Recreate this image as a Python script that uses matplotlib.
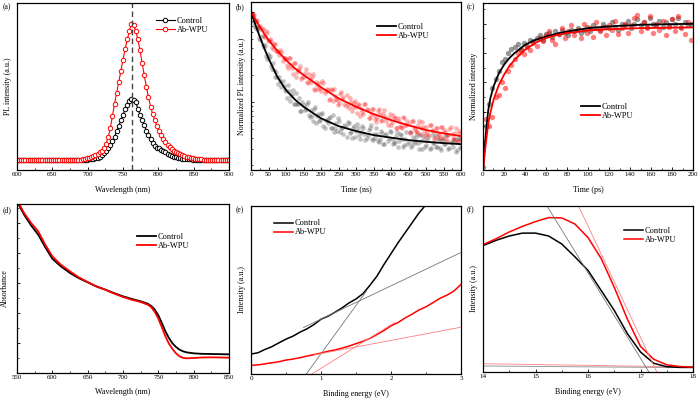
import numpy as np
import matplotlib
matplotlib.use("Agg")
import matplotlib.pyplot as plt
from matplotlib.ticker import MultipleLocator, LogLocator, NullFormatter

plt.rcParams['font.family'] = ['Liberation Serif', 'DejaVu Serif']

# ---------------- data ----------------
# (a) PL spectra
pl_wl = np.arange(600, 901, 3)
pl_ctrl = [0.001, 0.001, 0.001, 0.001, 0.001, 0.001, 0.001, 0.001, 0.001, 0.001,
           0.001, 0.001, 0.001, 0.001, 0.001, 0.001, 0.001, 0.001, 0.001, 0.001,
           0.001, 0.001, 0.001, 0.001, 0.001, 0.001, 0.001, 0.001, 0.001, 0.001,
           0.001, 0.001, 0.001, 0.002,
           0.004, 0.006, 0.009, 0.013, 0.018, 0.025, 0.035, 0.05, 0.065, 0.085,
           0.11, 0.14, 0.17, 0.21, 0.25, 0.29, 0.33, 0.37, 0.405, 0.43,
           0.442, 0.44, 0.42, 0.375, 0.33, 0.29, 0.255, 0.215, 0.18, 0.15,
           0.125, 0.105, 0.09, 0.085, 0.075, 0.065, 0.055, 0.046, 0.038, 0.031,
           0.025, 0.02, 0.016, 0.012, 0.009, 0.007, 0.005,
           0.004, 0.004, 0.003, 0.003, 0.003, 0.003, 0.003, 0.002, 0.002, 0.002,
           0.002, 0.002, 0.002, 0.002, 0.002, 0.002, 0.002, 0.002, 0.002, 0.002]
pl_abwpu = [0.002, 0.002, 0.002, 0.002, 0.002, 0.002, 0.002, 0.002, 0.002, 0.002,
            0.002, 0.002, 0.002, 0.002, 0.002, 0.002, 0.002, 0.002, 0.002, 0.002,
            0.002, 0.002, 0.002, 0.002, 0.002, 0.002, 0.002, 0.002, 0.002, 0.002,
            0.002,
            0.006, 0.009, 0.013, 0.017, 0.022, 0.029, 0.037, 0.046, 0.056, 0.066,
            0.085, 0.12, 0.165, 0.23, 0.32, 0.41, 0.49, 0.57, 0.65, 0.73,
            0.81, 0.88, 0.94, 0.995, 0.985, 0.94, 0.88, 0.80, 0.71, 0.62,
            0.535, 0.46, 0.39, 0.335, 0.29, 0.25, 0.21, 0.18, 0.155, 0.13,
            0.11, 0.095, 0.08, 0.068, 0.058, 0.049, 0.041, 0.034, 0.028, 0.023,
            0.019, 0.015, 0.012, 0.009, 0.007, 0.005, 0.004,
            0.003, 0.003, 0.003, 0.003, 0.003, 0.003, 0.003, 0.003, 0.003, 0.003,
            0.003, 0.003, 0.003]
pl_peak = 763

# (b) TRPL (two interleaved sampling sets per sample)
trpl_t = np.arange(0, 601, 6)
trpl_ctrl = [0.98, 0.90, 0.686, 0.64, 0.52, 0.546, 0.41, 0.326, 0.34, 0.322,
             0.235, 0.226, 0.218, 0.159, 0.171, 0.172, 0.135, 0.110, 0.133, 0.117,
             0.136, 0.094, 0.095, 0.110, 0.079, 0.093, 0.084, 0.099, 0.069, 0.070,
             0.083, 0.058, 0.074, 0.063, 0.076, 0.052, 0.063, 0.066, 0.052, 0.071,
             0.052, 0.048, 0.062, 0.051, 0.044, 0.054, 0.060, 0.045, 0.040, 0.054,
             0.048, 0.051, 0.039, 0.054, 0.044, 0.040, 0.049, 0.055, 0.038, 0.040,
             0.044, 0.036, 0.048, 0.034, 0.043, 0.037, 0.048, 0.039, 0.035, 0.042,
             0.032, 0.044, 0.039, 0.033, 0.047, 0.036, 0.032, 0.041, 0.035, 0.044,
             0.030, 0.037, 0.042, 0.032, 0.038, 0.030, 0.043, 0.035, 0.032, 0.040,
             0.031, 0.038, 0.034, 0.043, 0.030, 0.036, 0.032, 0.038, 0.029, 0.039,
             0.031]
trpl_abwpu = [0.965, 0.96, 0.786, 0.79, 0.68, 0.647, 0.541, 0.615, 0.489, 0.495,
              0.408, 0.441, 0.364, 0.355, 0.378, 0.289, 0.308, 0.257, 0.306, 0.257,
              0.206, 0.272, 0.213, 0.234, 0.180, 0.191, 0.231, 0.163, 0.182, 0.190,
              0.140, 0.169, 0.138, 0.144, 0.170, 0.127, 0.138, 0.106, 0.141, 0.104,
              0.118, 0.106, 0.097, 0.128, 0.113, 0.091, 0.095, 0.111, 0.080, 0.097,
              0.089, 0.096, 0.070, 0.077, 0.096, 0.083, 0.067, 0.074, 0.084, 0.064,
              0.067, 0.084, 0.062, 0.073, 0.068, 0.055, 0.074, 0.060, 0.066, 0.051,
              0.066, 0.054, 0.051, 0.067, 0.055, 0.057, 0.047, 0.061, 0.050, 0.047,
              0.062, 0.051, 0.053, 0.042, 0.045, 0.056, 0.049, 0.039, 0.052, 0.044,
              0.040, 0.053, 0.049, 0.039, 0.043, 0.053, 0.039, 0.045, 0.036, 0.048,
              0.039]
trpl_t2 = np.arange(3, 598, 6)
trpl_ctrl2 = [0.955, 0.75, 0.676, 0.626, 0.489, 0.426, 0.425, 0.302, 0.31, 0.254,
              0.273, 0.188, 0.192, 0.19, 0.147, 0.151, 0.134, 0.155, 0.102, 0.122,
              0.096, 0.126, 0.096, 0.079, 0.099, 0.081, 0.096, 0.071, 0.081, 0.061,
              0.087, 0.070, 0.062, 0.074, 0.054, 0.063, 0.058, 0.069, 0.052, 0.047,
              0.059, 0.066, 0.047, 0.051, 0.056, 0.041, 0.058, 0.046, 0.051, 0.041,
              0.057, 0.043, 0.047, 0.051, 0.038, 0.043, 0.052, 0.039, 0.044, 0.052,
              0.037, 0.039, 0.045, 0.034, 0.044, 0.040, 0.046, 0.034, 0.036, 0.047,
              0.037, 0.043, 0.032, 0.039, 0.034, 0.046, 0.033, 0.037, 0.041, 0.035,
              0.043, 0.030, 0.038, 0.033, 0.041, 0.031, 0.035, 0.043, 0.032, 0.038,
              0.029, 0.039, 0.034, 0.043, 0.031, 0.035, 0.038, 0.028, 0.040, 0.032]
trpl_abwpu2 = [0.93, 0.925, 0.806, 0.68, 0.695, 0.647, 0.527, 0.58, 0.475, 0.48,
               0.39, 0.446, 0.37, 0.33, 0.357, 0.306, 0.30, 0.237, 0.305, 0.238,
               0.268, 0.192, 0.226, 0.249, 0.188, 0.208, 0.166, 0.205, 0.167, 0.203,
               0.137, 0.155, 0.163, 0.131, 0.162, 0.132, 0.135, 0.109, 0.135, 0.139,
               0.107, 0.092, 0.122, 0.107, 0.095, 0.120, 0.086, 0.101, 0.089, 0.104,
               0.075, 0.093, 0.084, 0.074, 0.095, 0.082, 0.066, 0.083, 0.072, 0.060,
               0.080, 0.074, 0.063, 0.081, 0.062, 0.066, 0.056, 0.072, 0.066, 0.051,
               0.062, 0.053, 0.068, 0.055, 0.061, 0.045, 0.061, 0.053, 0.048, 0.055,
               0.044, 0.060, 0.047, 0.053, 0.043, 0.055, 0.048, 0.040, 0.051, 0.043,
               0.053, 0.041, 0.046, 0.037, 0.050, 0.044, 0.040, 0.051, 0.037, 0.045]
fit_t = [0, 10, 25, 40, 50, 75, 100, 125, 150, 200, 250, 300, 350, 400, 450, 500, 550, 600]
fit_ctrl = [1.0, 0.77, 0.532, 0.378, 0.306, 0.191, 0.136, 0.107, 0.0887, 0.0659,
            0.0541, 0.0476, 0.043, 0.0402, 0.0378, 0.0362, 0.035, 0.0341]
fit_abwpu = [1.0, 0.86, 0.687, 0.555, 0.489, 0.372, 0.293, 0.237, 0.2, 0.146,
             0.11, 0.0887, 0.0736, 0.0631, 0.0551, 0.0489, 0.0449, 0.0419]

# (c) TA kinetics
ta_t = np.arange(0, 199, 3)
ta_ctrl = [0.02, 0.30, 0.45, 0.56, 0.62, 0.68, 0.74, 0.76, 0.80, 0.83,
           0.84, 0.86, 0.83, 0.87, 0.85, 0.89, 0.88, 0.90, 0.92, 0.89,
           0.93, 0.94, 0.91, 0.95, 0.93, 0.96, 0.94, 0.92, 0.96, 0.95,
           0.97, 0.94, 0.96, 0.98, 0.95, 0.99, 0.97, 0.96, 1.00, 0.98,
           0.97, 1.01, 0.98, 0.96, 1.00, 0.99, 1.02, 0.97, 1.00, 1.03,
           0.99, 1.01, 0.98, 1.04, 1.00, 0.99, 1.02, 0.98, 1.01, 0.99,
           1.03, 1.00, 1.04, 0.98, 1.01, 0.99, 1.00]
ta_abwpu = [0.18, 0.35, 0.30, 0.36, 0.50, 0.51, 0.60, 0.56, 0.68, 0.72,
            0.76, 0.80, 0.82, 0.79, 0.84, 0.82, 0.87, 0.85, 0.90, 0.88,
            0.92, 0.95, 0.89, 0.86, 0.93, 0.97, 0.90, 0.95, 0.99, 0.92,
            0.96, 0.90, 1.00, 0.94, 0.97, 0.91, 1.01, 0.95, 0.98, 0.92,
            0.99, 0.96, 1.02, 0.93, 0.97, 1.00, 0.94, 0.99, 1.04, 1.06,
            0.95, 1.01, 0.97, 1.05, 0.94, 1.00, 0.96, 1.02, 0.92, 0.98,
            1.03, 0.95, 1.05, 0.97, 0.93, 1.01, 0.89]
tafit_t = [0, 1, 2, 3, 5, 7, 10, 15, 20, 25, 30, 40, 50, 60, 70, 80, 100, 120, 150, 200]
tafit_ctrl = [0.0, 0.1, 0.19, 0.27, 0.41, 0.49, 0.571, 0.66, 0.719, 0.765,
              0.799, 0.856, 0.89, 0.913, 0.932, 0.947, 0.970, 0.982, 0.993, 1.0]
tafit_abwpu = [0.0, 0.07, 0.14, 0.2, 0.32, 0.39, 0.479, 0.58, 0.651, 0.71,
               0.753, 0.822, 0.87, 0.902, 0.922, 0.936, 0.954, 0.963, 0.970, 0.975]

# (d) Absorbance
abs_wl = [550, 555, 560, 570, 580, 590, 600, 612, 625, 637, 650, 662, 675, 687, 700,
          712, 725, 735, 740, 745, 750, 755, 760, 765, 770, 775, 780, 785, 790, 800,
          812, 825, 850]
abs_ctrl = [1.03, 0.99, 0.95, 0.885, 0.83, 0.755, 0.686, 0.64, 0.60, 0.57, 0.544, 0.52,
            0.50, 0.48, 0.46, 0.445, 0.43, 0.416, 0.402, 0.38, 0.346, 0.30, 0.25, 0.21,
            0.178, 0.156, 0.14, 0.13, 0.124, 0.118, 0.115, 0.114, 0.112]
abs_abwpu = [1.045, 1.0, 0.96, 0.90, 0.85, 0.77, 0.70, 0.65, 0.61, 0.575, 0.546, 0.52,
             0.50, 0.477, 0.456, 0.44, 0.426, 0.41, 0.395, 0.366, 0.326, 0.274, 0.22,
             0.176, 0.144, 0.118, 0.10, 0.091, 0.088, 0.09, 0.093, 0.094, 0.092]

# (e) UPS valence region
e_x_ctrl = [0.0, 0.1, 0.2, 0.3, 0.4, 0.5, 0.6, 0.7, 0.8, 0.9, 1.0, 1.1, 1.2, 1.3,
            1.4, 1.5, 1.6, 1.7, 1.8, 1.9, 2.0, 2.1, 2.2, 2.3, 2.4, 2.5, 2.6]
e_ctrl = [0.12, 0.128, 0.148, 0.165, 0.188, 0.21, 0.228, 0.252, 0.272, 0.298,
          0.33, 0.348, 0.372, 0.398, 0.428, 0.452, 0.484, 0.535, 0.59, 0.66,
          0.725, 0.79, 0.85, 0.91, 0.97, 1.02, 1.08]
e_x_abwpu = [0.0, 0.1, 0.2, 0.3, 0.4, 0.5, 0.6, 0.7, 0.8, 0.9, 1.0, 1.1, 1.2, 1.3,
             1.4, 1.5, 1.6, 1.7, 1.8, 1.9, 2.0, 2.1, 2.2, 2.3, 2.4, 2.5, 2.6, 2.7,
             2.8, 2.9, 3.0]
e_abwpu = [0.052, 0.055, 0.061, 0.068, 0.074, 0.084, 0.09, 0.098, 0.108, 0.117,
           0.126, 0.137, 0.145, 0.156, 0.168, 0.183, 0.197, 0.215, 0.238, 0.262,
           0.29, 0.31, 0.337, 0.36, 0.386, 0.405, 0.43, 0.456, 0.475, 0.50, 0.54]
e_tan_ctrl_flat = ([0.75, 3.0], [0.28, 0.732])
e_tan_ctrl_steep = ([0.79, 1.65], [0.0, 0.50])
e_tan_ab_flat = ([0.9, 3.0], [0.115, 0.282])
e_tan_ab_steep = ([0.87, 2.05], [0.0, 0.31])

# (f) UPS cutoff region
f_x = [14.0, 14.25, 14.5, 14.75, 15.0, 15.25, 15.5, 15.75, 16.0, 16.25, 16.5,
       16.75, 17.0, 17.25, 17.5, 17.75, 18.0]
f_ctrl = [0.79, 0.823, 0.85, 0.868, 0.868, 0.85, 0.80, 0.72, 0.635, 0.51, 0.385,
          0.24, 0.125, 0.055, 0.033, 0.029, 0.029]
f_abwpu = [0.796, 0.833, 0.875, 0.91, 0.94, 0.965, 0.963, 0.925, 0.84, 0.71, 0.53,
           0.33, 0.16, 0.08, 0.045, 0.034, 0.031]
f_tan_ctrl = ([15.22, 17.16], [1.0375, 0.0])
f_tan_ab = ([15.82, 17.31], [1.0375, 0.0])
f_base_ctrl = ([14.0, 18.0], [0.0375, 0.027])
f_base_ab = ([14.0, 18.0], [0.052, 0.031])

labels = ["Control", "Ab-WPU"]
RED = "#ff0000"
BLK = "#000000"

# ---------------- figure ----------------
W, H = 700, 400
fig = plt.figure(figsize=(7, 4), dpi=100)


def make_ax(l, r, t, b):
    return fig.add_axes([l / W, (H - b) / H, (r - l) / W, (b - t) / H])


def style(ax, xlabel, ylabel, xmaj, xmin, ylab_px=5.0):
    for s in ax.spines.values():
        s.set_linewidth(0.9)
    ax.tick_params(direction='in', which='both', top=False, right=False,
                   labelsize=5, pad=1.5)
    ax.tick_params(which='major', length=2.5, width=0.6)
    ax.tick_params(which='minor', length=1.5, width=0.5)
    ax.xaxis.set_major_locator(MultipleLocator(xmaj))
    ax.xaxis.set_minor_locator(MultipleLocator(xmin))
    ax.set_yticklabels([])
    ax.yaxis.set_minor_formatter(NullFormatter())
    ax.set_xlabel(xlabel, fontsize=5.8)
    ax.set_ylabel(ylabel, fontsize=5.8)
    wpx = ax.get_position().width * W
    hpx = ax.get_position().height * H
    ax.yaxis.set_label_coords(-ylab_px / wpx, 0.5)
    ax.xaxis.set_label_coords(0.5, -15.5 / hpx)


def leg(ax, x, y):
    ax.legend(loc='upper left', bbox_to_anchor=(x, y), frameon=False, fontsize=6,
              handlelength=2.3, handletextpad=0.2, labelspacing=0.12,
              borderpad=0, borderaxespad=0)


# (a)
ax = make_ax(17, 229, 3, 170)
ax.plot(pl_wl, pl_ctrl, color=BLK, lw=0.8, marker='o', ms=3.2, mfc='white',
        mec=BLK, mew=0.7, label=labels[0])
ax.plot(pl_wl, pl_abwpu, color=RED, lw=0.8, marker='o', ms=3.2, mfc='white',
        mec=RED, mew=0.7, label=labels[1])
ax.axvline(pl_peak, color='#444444', lw=1.0, ls=(0, (4, 2.5)))
ax.set_xlim(600, 900)
ax.set_ylim(-0.073, 1.146)
style(ax, "Wavelength (nm)", "PL intensity (a.u.)", 50, 25)
ax.tick_params(axis='y', left=False, which='both')
leg(ax, 0.655, 0.915)

# (b)
ax = make_ax(251, 461, 2, 170)
for tt, yy, col, al in [(trpl_t, trpl_ctrl, '#555555', 0.35),
                        (trpl_t2, trpl_ctrl2, '#555555', 0.35),
                        (trpl_t, trpl_abwpu, RED, 0.3),
                        (trpl_t2, trpl_abwpu2, RED, 0.3)]:
    ax.scatter(tt, yy, s=11, color=col, alpha=al, lw=0)
ax.plot(fit_t, fit_ctrl, color=BLK, lw=1.3, label=labels[0])
ax.plot(fit_t, fit_abwpu, color=RED, lw=1.3, label=labels[1])
ax.set_yscale('log')
ax.set_xlim(0, 600)
ax.set_ylim(0.0176, 1.29)
style(ax, "Time (ns)", "Normalized PL intensity (a.u.)", 50, 25)
ax.yaxis.set_major_locator(LogLocator(base=10))
ax.yaxis.set_minor_locator(LogLocator(base=10, subs=np.arange(2, 10) * 1.0))
ax.yaxis.set_major_formatter(NullFormatter())
leg(ax, 0.6, 0.875)

# (c)
ax = make_ax(483, 693, 3, 170)
ax.scatter(ta_t, ta_ctrl, s=15, color='#444444', alpha=0.55, lw=0)
ax.scatter(ta_t, ta_abwpu, s=15, color=RED, alpha=0.5, lw=0)
ax.plot(tafit_t, tafit_ctrl, color=BLK, lw=1.3, label=labels[0])
ax.plot(tafit_t, tafit_abwpu, color=RED, lw=1.3, label=labels[1])
ax.set_xlim(0, 200)
ax.set_ylim(0, 1.142)
style(ax, "Time (ps)", "Normalized intensity", 20, 10)
ax.yaxis.set_major_locator(MultipleLocator(0.2))
ax.yaxis.set_minor_locator(MultipleLocator(0.1))
ax.set_yticklabels([])
leg(ax, 0.465, 0.40)

# (d)
ax = make_ax(17, 229, 204, 373)
ax.plot(abs_wl, abs_ctrl, color=BLK, lw=1.3, label=labels[0])
ax.plot(abs_wl, abs_abwpu, color=RED, lw=1.3, label=labels[1])
ax.set_xlim(550, 850)
ax.set_ylim(0, 1.014)
style(ax, "Wavelength (nm)", "Absorbance", 50, 25, ylab_px=8.5)
ax.yaxis.set_major_locator(MultipleLocator(0.18))
ax.yaxis.set_minor_locator(MultipleLocator(0.09))
ax.set_yticklabels([])
leg(ax, 0.565, 0.83)

# (e)
ax = make_ax(251, 461, 206, 374)
ax.plot(e_x_ctrl, e_ctrl, color=BLK, lw=1.1, label=labels[0])
ax.plot(e_x_abwpu, e_abwpu, color=RED, lw=1.1, label=labels[1])
ax.plot(*e_tan_ctrl_flat, color='#777777', lw=0.6)
ax.plot(*e_tan_ctrl_steep, color='#777777', lw=0.6)
ax.plot(*e_tan_ab_flat, color='#ff8080', lw=0.6)
ax.plot(*e_tan_ab_steep, color='#ff8080', lw=0.6)
ax.set_xlim(0, 3)
ax.set_ylim(0, 1.012)
style(ax, "Binding energy (eV)", "Intensity (a.u.)", 1, 0.5)
ax.tick_params(axis='y', left=False, which='both')
leg(ax, 0.11, 0.92)

# (f)
ax = make_ax(483, 693, 206, 372)
ax.plot(*f_base_ab, color='#ff9090', lw=0.7)
ax.plot(*f_base_ctrl, color='#999999', lw=0.7)
ax.plot(f_x, f_ctrl, color=BLK, lw=1.1, label=labels[0])
ax.plot(f_x, f_abwpu, color=RED, lw=1.1, label=labels[1])
ax.plot(*f_tan_ctrl, color='#777777', lw=0.6)
ax.plot(*f_tan_ab, color='#ff8080', lw=0.6)
ax.set_xlim(14, 18)
ax.set_ylim(0, 1.0375)
style(ax, "Binding energy (eV)", "Intensity (a.u.)", 1, 0.5)
ax.tick_params(axis='y', left=False, which='both')
leg(ax, 0.67, 0.875)

# panel letters
for txt, x, y in [("(a)", 3, 7), ("(b)", 236, 7), ("(c)", 467, 7),
                  ("(d)", 3, 210), ("(e)", 236, 210), ("(f)", 467, 210)]:
    fig.text(x / W, 1 - y / H, txt, fontsize=5.5, va='center', ha='left')

fig.savefig("out.png", dpi=100)
